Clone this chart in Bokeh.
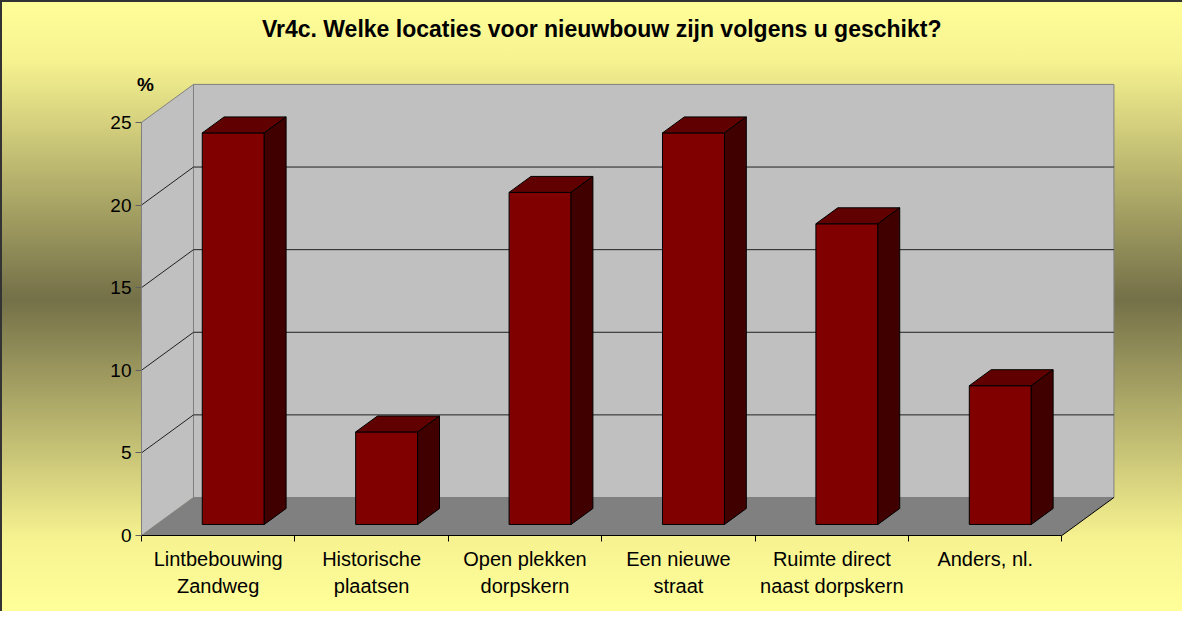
from bokeh.plotting import figure
from bokeh.models import Range1d, FixedTicker, Label
from bokeh.embed import file_html
from bokeh.resources import INLINE

# ---- data ----
categories = ["Lintbebouwing\nZandweg", "Historische\nplaatsen", "Open plekken\ndorpskern",
              "Een nieuwe\nstraat", "Ruimte direct\nnaast dorpskern", "Anders, nl."]
values = [23.7, 5.6, 20.1, 23.7, 18.2, 8.4]
y_ticks = [0, 5, 10, 15, 20, 25]
title_text = "Vr4c. Welke locaties voor nieuwbouw zijn volgens u geschikt?"
unit_text = "%"

# ---- style / geometry constants ----
n = len(categories)
YMAX = y_ticks[-1]
DX = 0.339   # depth offset in x units
DY = 2.30    # depth offset in y units
D0, D1 = 0.29, 0.71  # bar depth span (fraction of full depth)
BW = 0.404   # bar width
FONT = "Liberation Sans"

p = figure(width=1182, height=611, output_backend="svg", toolbar_location=None,
           x_range=Range1d(-0.919, 6.786), y_range=Range1d(-4.60, 32.38),
           min_border=0, title=None)
p.background_fill_alpha = 0
p.border_fill_alpha = 0
p.outline_line_color = None
p.xgrid.visible = False
p.ygrid.visible = False
p.styles = {
    "background": "linear-gradient(to bottom, #FFFF99 0%, #F6F290 10%, #747048 49%, #F6F290 88%, #FFFF99 100%)",
    "box-shadow": "inset 2px 2px 0 #333333",
}

# ---- walls and floor ----
p.quad(left=DX, right=n + DX, bottom=DY, top=YMAX + DY,
       fill_color="#C0C0C0", line_color="#808080", line_width=1)
p.patch([0, 0, DX, DX], [0, YMAX, YMAX + DY, DY],
        fill_color="#C0C0C0", line_color="#808080", line_width=1)
p.patch([0, DX, n + DX, n], [0, DY, DY, 0], fill_color="#808080", line_color=None)
p.segment(x0=[n], y0=[0], x1=[n + DX], y1=[DY], line_color="black", line_width=1)

grid_vals = y_ticks[1:-1]
p.segment(x0=[DX] * len(grid_vals), y0=[t + DY for t in grid_vals],
          x1=[n + DX] * len(grid_vals), y1=[t + DY for t in grid_vals],
          line_color="#202020", line_width=1)
p.segment(x0=[0] * len(grid_vals), y0=grid_vals,
          x1=[DX] * len(grid_vals), y1=[t + DY for t in grid_vals],
          line_color="#202020", line_width=1)

# ---- 3D bars ----
ddx = (D1 - D0) * DX
ddy = (D1 - D0) * DY
xl = [i + 0.5 + D0 * DX - BW / 2 for i in range(n)]
xr = [x + BW for x in xl]
yb = [D0 * DY] * n
yt = [D0 * DY + v for v in values]

p.quad(left=xl, right=xr, bottom=yb, top=yt,
       fill_color="#800000", line_color="black", line_width=1)
p.patches(xs=[[a, b, b + ddx, a + ddx] for a, b in zip(xl, xr)],
          ys=[[t, t, t + ddy, t + ddy] for t in yt],
          fill_color="#600000", line_color="black", line_width=1)
p.patches(xs=[[b, b + ddx, b + ddx, b] for b in xr],
          ys=[[lo, lo + ddy, hi + ddy, hi] for lo, hi in zip(yb, yt)],
          fill_color="#400000", line_color="black", line_width=1)

# ---- axes (fixed at data origin) ----
xa = p.xaxis[0]
xa.fixed_location = 0
xa.ticker = FixedTicker(ticks=[i + 0.5 for i in range(n)], minor_ticks=list(range(n + 1)))
xa.major_label_overrides = {i + 0.5: c for i, c in enumerate(categories)}
xa.major_tick_out = 0
xa.major_tick_in = 0
xa.minor_tick_out = 6
xa.minor_tick_in = 0
xa.minor_tick_line_color = "black"
xa.axis_line_color = "black"
xa.bounds = (0, n)
xa.major_label_text_font = FONT
xa.major_label_text_font_size = "20px"
xa.major_label_text_color = "black"
xa.major_label_standoff = 7

ya = p.yaxis[0]
ya.fixed_location = 0
ya.ticker = FixedTicker(ticks=y_ticks, minor_ticks=[])
ya.bounds = (0, YMAX)
ya.axis_line_color = "#808080"
ya.major_tick_line_color = "#606060"
ya.major_tick_out = 6
ya.major_tick_in = 0
ya.major_label_standoff = 4
ya.major_label_text_font = FONT
ya.major_label_text_font_size = "19px"
ya.major_label_text_color = "black"

# ---- texts ----
p.add_layout(Label(x=n / 2, y=30.65, text=title_text, text_align="center",
                   text_baseline="alphabetic", text_font=FONT, text_font_style="bold",
                   text_font_size="23px", text_color="black"))
p.add_layout(Label(x=0.026, y=27.3, text=unit_text, text_align="center",
                   text_baseline="alphabetic", text_font=FONT, text_font_style="bold",
                   text_font_size="19px", text_color="black"))

open("out.html", "w").write(file_html(p, INLINE))
